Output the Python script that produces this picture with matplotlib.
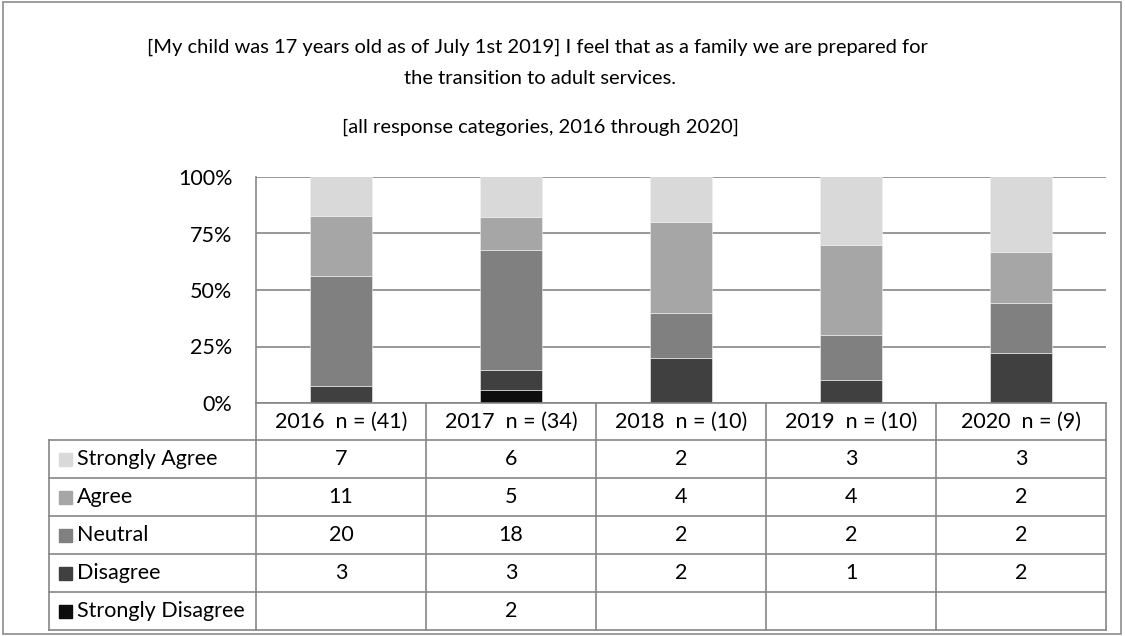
import matplotlib
matplotlib.use("Agg")
import matplotlib.pyplot as plt
import numpy as np
from matplotlib.patches import Rectangle

plt.rcParams['font.family'] = ['Lato', 'DejaVu Sans']

# survey response counts per year
years = ['2016', '2017', '2018', '2019', '2020']
categories = ['Strongly Agree', 'Agree', 'Neutral', 'Disagree', 'Strongly Disagree']
strongly_agree = [7, 6, 2, 3, 3]
agree = [11, 5, 4, 4, 2]
neutral = [20, 18, 2, 2, 2]
disagree = [3, 3, 2, 1, 2]
strongly_disagree = [0, 2, 0, 0, 0]
colors = ['#d9d9d9', '#a6a6a6', '#808080', '#404040', '#0d0d0d']
ytick_labels = ['0%', '25%', '50%', '75%', '100%']

counts = np.array([strongly_agree, agree, neutral, disagree, strongly_disagree], dtype=float)
totals = counts.sum(axis=0)
shares = counts / totals

W, H = 1125, 636
fig = plt.figure(figsize=(W / 100, H / 100), dpi=100)
grid_col = '#868686'
fs_title = 14.5
fs_tab = 15.5


def fx(px):
    return px / W


def fy(py):
    return 1 - py / H


# outer frame
fig.patches.append(Rectangle((fx(3), fy(634)), fx(1121) - fx(3), fy(2) - fy(634),
                             transform=fig.transFigure, fill=False,
                             edgecolor='#8c8c8c', linewidth=1.2))

fig.text(fx(537), fy(47), '[My child was 17 years old as of July 1st 2019] I feel that as a family we are prepared for',
         ha='center', va='center', fontsize=fs_title)
fig.text(fx(540), fy(78), 'the transition to adult services.', ha='center', va='center', fontsize=fs_title)
fig.text(fx(541), fy(127), '[all response categories, 2016 through 2020]', ha='center', va='center', fontsize=fs_title)

# stacked 100% bars
ax = fig.add_axes([fx(256), fy(403), fx(1106) - fx(256), fy(177) - fy(403)])
x = np.arange(len(years)) + 0.5
bottom = np.zeros(len(years))
for i in range(len(categories) - 1, -1, -1):
    ax.bar(x, shares[i], 0.37, bottom=bottom, color=colors[i],
           edgecolor='#f2f2f2', linewidth=0.4, zorder=3)
    bottom += shares[i]
ax.set_xlim(0, len(years))
ax.set_ylim(0, 1)
ax.set_yticks([0, 0.25, 0.5, 0.75, 1.0])
ax.set_yticklabels(ytick_labels, fontsize=fs_tab)
ax.tick_params(axis='y', length=0, pad=17)
ax.set_xticks([])
ax.yaxis.grid(True, color=grid_col, linewidth=1.2, zorder=0)
for s in ['top', 'right', 'bottom']:
    ax.spines[s].set_visible(False)
ax.spines['left'].set_color(grid_col)
ax.spines['left'].set_linewidth(1.2)

# data table below the chart
tab = fig.add_axes([0, 0, 1, 1], facecolor='none')
tab.set_xlim(0, W)
tab.set_ylim(H, 0)
tab.axis('off')
col_edges = [256 + i * 170 for i in range(len(years) + 1)]
row_edges = [403, 440, 478, 516, 554, 592, 630]
lw = 1.2
tab.plot([col_edges[0], col_edges[-1]], [row_edges[0]] * 2, color=grid_col, lw=lw)
for r in row_edges[1:]:
    tab.plot([49, col_edges[-1]], [r, r], color=grid_col, lw=lw)
tab.plot([49, 49], [row_edges[1], row_edges[-1]], color=grid_col, lw=lw)
for c in col_edges:
    tab.plot([c, c], [row_edges[0], row_edges[-1]], color=grid_col, lw=lw)

for j, yr in enumerate(years):
    cx = (col_edges[j] + col_edges[j + 1]) / 2
    cy = (row_edges[0] + row_edges[1]) / 2
    tab.text(cx, cy, f'{yr}  n = ({int(totals[j])})', ha='center', va='center', fontsize=fs_tab)

for i, cat in enumerate(categories):
    cy = (row_edges[i + 1] + row_edges[i + 2]) / 2
    tab.add_patch(Rectangle((59, cy - 6.5), 13, 13, color=colors[i]))
    tab.text(77, cy, cat, ha='left', va='center', fontsize=fs_tab)
    for j in range(len(years)):
        if counts[i, j] > 0:
            cx = (col_edges[j] + col_edges[j + 1]) / 2
            tab.text(cx, cy, str(int(counts[i, j])), ha='center', va='center', fontsize=fs_tab)

fig.savefig('out.png', dpi=100)
